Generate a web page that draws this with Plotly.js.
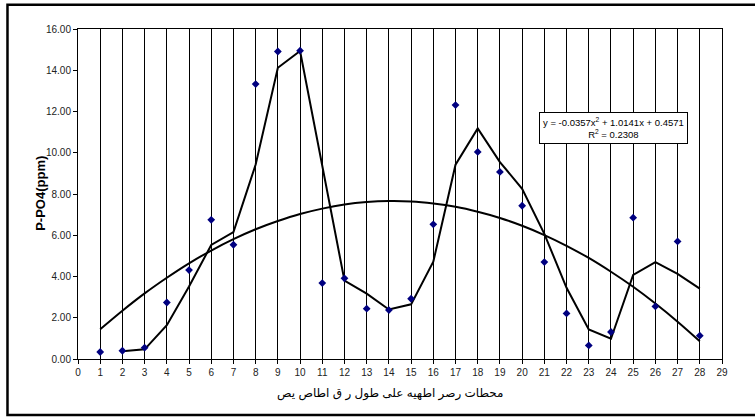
<!DOCTYPE html>
<html>
<head>
<meta charset="utf-8">
<script src="https://cdn.plot.ly/plotly-3.0.1.min.js"></script>
<style>html,body{margin:0;padding:0;background:#fff;}#chart{width:755px;height:417px;}</style>
</head>
<body>
<div id="chart"></div>
<script>
// Stations (x) and measured P-PO4 (ppm)
var stations = [1,2,3,4,5,6,7,8,9,10,11,12,13,14,15,16,17,18,19,20,21,22,23,24,25,26,27,28];
var ppo4 = [0.34,0.40,0.55,2.74,4.31,6.75,5.54,13.33,14.91,14.95,3.68,3.91,2.44,2.37,2.92,6.53,12.31,10.04,9.07,7.43,4.70,2.21,0.66,1.31,6.85,2.55,5.70,1.13];
// 2-period moving average trendline
var maX = [2,3,4,5,6,7,8,9,10,11,12,13,14,15,16,17,18,19,20,21,22,23,24,25,26,27,28];
var maY = [0.37,0.47,1.64,3.52,5.53,6.15,9.43,14.12,14.93,9.31,3.80,3.17,2.40,2.65,4.72,9.42,11.18,9.55,8.25,6.07,3.45,1.43,0.98,4.08,4.70,4.13,3.41];
// Polynomial trendline values
var polyY = [1.44,2.34,3.18,3.94,4.64,5.26,5.81,6.29,6.69,7.03,7.29,7.49,7.61,7.66,7.64,7.54,7.38,7.14,6.84,6.46,6.01,5.49,4.90,4.23,3.50,2.69,1.81,0.86];
var xTicks = [0,1,2,3,4,5,6,7,8,9,10,11,12,13,14,15,16,17,18,19,20,21,22,23,24,25,26,27,28,29];
var yTicks = [0,2,4,6,8,10,12,14,16];
var yTickText = ["0.00","2.00","4.00","6.00","8.00","10.00","12.00","14.00","16.00"];
var yTitle = "P-PO4(ppm)";
var xTitle = "محطات رصر اطهيه على طول ر ق اطاص يص";
var eqText = "y = -0.0357x<sup>2</sup> + 1.0141x + 0.4571<br>R<sup>2</sup> = 0.2308";

var fontFam = "Arial, 'Liberation Sans', 'DejaVu Sans', sans-serif";

var traces = [
  {x: stations, y: polyY, mode: 'lines', line: {color: '#000', width: 2, shape: 'spline'}, hoverinfo: 'skip'},
  {x: maX, y: maY, mode: 'lines', line: {color: '#000', width: 2}, hoverinfo: 'skip'},
  {x: stations, y: ppo4, mode: 'markers', marker: {symbol: 'diamond', color: '#000080', size: 6}}
];

var layout = {
  width: 755, height: 417,
  margin: {l: 78, r: 33, t: 29, b: 58},
  paper_bgcolor: '#fff', plot_bgcolor: '#fff',
  showlegend: false,
  font: {family: fontFam, color: '#000'},
  xaxis: {
    range: [0, 29], tickvals: xTicks, ticktext: xTicks.map(String),
    showgrid: true, gridcolor: '#000', gridwidth: 1,
    showline: true, linecolor: '#000', linewidth: 1, mirror: true,
    ticks: 'outside', ticklen: 4, tickcolor: '#000',
    tickfont: {size: 10, family: fontFam, color: '#222'},
    zeroline: false, fixedrange: true
  },
  yaxis: {
    range: [0, 16], tickvals: yTicks, ticktext: yTickText,
    showgrid: false,
    showline: true, linecolor: '#000', linewidth: 1, mirror: true,
    ticks: 'outside', ticklen: 4, tickcolor: '#000',
    tickfont: {size: 10, family: fontFam, color: '#222'},
    zeroline: false, fixedrange: true
  },
  annotations: [
    {xref: 'paper', yref: 'paper', x: -0.073, y: 0.502, text: '<b>' + yTitle + '</b>', textangle: -90,
     showarrow: false, font: {size: 13, family: fontFam, color: '#000'}},
    {xref: 'paper', yref: 'paper', x: 0.485, y: -0.105, yanchor: 'middle', text: xTitle,
     showarrow: false, font: {size: 12, family: fontFam, color: '#000'}},
    {xref: 'x', yref: 'y', x: 24.1, y: 11.2, text: eqText, showarrow: false, align: 'center',
     bgcolor: '#fff', bordercolor: '#000', borderwidth: 1, borderpad: 3,
     font: {size: 9.5, family: fontFam, color: '#000'}}
  ],
  shapes: [
    {type: 'rect', xref: 'paper', yref: 'paper', x0: -0.1095, x1: 1.08, y0: -0.1695, y1: 1.0735,
     line: {color: '#000', width: 2.5}, fillcolor: 'rgba(0,0,0,0)'}
  ]
};

Plotly.newPlot('chart', traces, layout, {displayModeBar: false, staticPlot: true});
</script>
</body>
</html>
